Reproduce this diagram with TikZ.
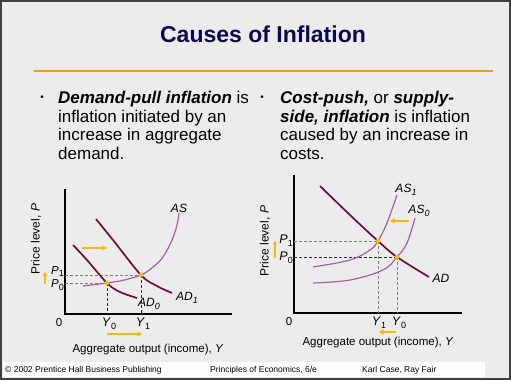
\documentclass[tikz,border=0pt]{standalone}
\usepackage{fontspec}
\setmainfont{Liberation Sans}
\usetikzlibrary{arrows.meta}
\usepackage{xcolor}

\definecolor{slidebg}{RGB}{236,236,236}
\definecolor{titleblue}{RGB}{10,10,80}
\definecolor{rulegold}{RGB}{240,160,0}
\definecolor{admaroon}{RGB}{105,15,60}
\definecolor{aspurple}{RGB}{165,95,165}
\definecolor{shiftyellow}{RGB}{245,185,10}
\newcommand{\lowidx}[1]{\raisebox{-0.45ex}{\fontsize{9}{9}\selectfont #1}}

\begin{document}
\begin{tikzpicture}[
    x=1pt, y=-1pt,
    bullettext/.style={font=\fontsize{17}{18.5}\selectfont, align=left, inner sep=0pt, anchor=north west},
    bulletmark/.style={font=\fontsize{10}{10}\selectfont, inner sep=0pt},
    axisline/.style={line width=1.4pt, black},
    adcurve/.style={line width=1.7pt, admaroon},
    ascurve/.style={line width=1.2pt, aspurple},
    guide/.style={gray, line width=0.6pt, dash pattern=on 3pt off 2pt},
    darkguide/.style={guide, black!85},
    shiftarrow/.style={line width=1.5pt, shiftyellow, -{Triangle[length=4.5pt,width=5pt]}},
    eqdot/.style={circle, fill=shiftyellow, inner sep=0pt, minimum size=4.5pt},
    lbl/.style={font=\fontsize{11.5}{13}\selectfont, inner sep=0pt},
    ticklbl/.style={font=\fontsize{12.5}{13}\selectfont, inner sep=0pt},
    curvelbl/.style={font=\fontsize{12}{13}\selectfont\itshape, inner sep=0pt},
    foot/.style={font=\fontsize{8.5}{10}\selectfont, inner sep=0pt, anchor=west}
]

% Slide background
\useasboundingbox (0,0) rectangle (511,380);
\fill[slidebg] (0,0) rectangle (511,380);
\fill[white!97!slidebg] (3,362) rectangle (485,377);
\draw[black!75, line width=2pt] (1,1) rectangle (510,379);

% Title
\node[font=\bfseries\fontsize{23}{26}\selectfont, text=titleblue, anchor=base] (title) at (263,42) {Causes of Inflation};
\draw[rulegold, line width=2pt] (34,71) -- (493,71);

% Bullets
\node[bulletmark] (b1) at (42,98) {•};
\node[bullettext] (pull) at (58,91) {\textbf{\textit{Demand-pull inflation}} is\\inflation initiated by an\\increase in aggregate\\demand.};
\node[bulletmark] (b2) at (262,98) {•};
\node[bullettext] (push) at (280,91) {\textbf{\textit{Cost-push,}} or \textbf{\textit{supply-}}\\\textbf{\textit{side, inflation}} is inflation\\caused by an increase in\\costs.};

% Left graph: demand-pull
\coordinate (o1) at (65,314);
\draw[axisline] (65,189) -- (o1) -- (232,314);
\node[eqdot] (e0) at (107,283) {};
\node[eqdot] (e1) at (141,275) {};

\draw[guide] (o1 |- e1) -- (e1.center);
\draw[guide] (o1 |- e0) -- (e0.center);
\draw[darkguide] (e1.center) -- (e1 |- o1);
\draw[darkguide] (e0.center) -- (e0 |- o1);

\draw[ascurve] plot[smooth, tension=0.6] coordinates {(83,286) (e0.center) (120,281) (e1.center) (153,267) (163,257) (172,240) (177,225) (179,213)};
\draw[adcurve] plot[smooth, tension=0.6] coordinates {(73,245) (87,260) (e0.center) (120,292) (137,298)};
\draw[adcurve] plot[smooth, tension=0.6] coordinates {(96,219) (113,240) (e1.center) (157,286) (172,293)};
\node[eqdot] at (e0) {};
\node[eqdot] at (e1) {};

\node[curvelbl] (as) at (179,208) {AS};
\node[curvelbl] (ad0) at (149,304) {AD\lowidx{0}};
\node[curvelbl] (ad1) at (187,298) {AD\lowidx{1}};

\node[lbl, anchor=east] (p1l) at (64,271.5) {\textit{P}\lowidx{1}};
\node[lbl, anchor=east] (p0l) at (64,285) {\textit{P}\lowidx{0}};
\node[lbl] (zero1) at (59,323) {0};
\node[ticklbl] (y0l) at (109,324) {\textit{Y}\lowidx{0}};
\node[ticklbl] (y1l) at (143,324) {\textit{Y}\lowidx{1}};
\node[lbl, anchor=base] (xlab1) at (148,352) {Aggregate output (income), \textit{Y}};
\node[lbl, font=\fontsize{12}{13}\selectfont, rotate=90] (ylab1) at (36,239) {Price level, \textit{P}};

\coordinate (adfrom) at (82,248);
\coordinate (adto) at (107,248);
\coordinate (yfrom1) at (107,334);
\coordinate (yto1) at (142,334);
\coordinate (pfrom1) at (45,284);
\coordinate (pto1) at (45,272);
\draw[shiftarrow] (adfrom) -- (adto);
\draw[shiftarrow] (yfrom1) -- (yto1);
\draw[shiftarrow, -{Triangle[length=3.5pt,width=4pt]}, line width=1.2pt] (pfrom1) -- (pto1);

% Right graph: cost-push
\coordinate (o2) at (294,313);
\draw[axisline] (294,175) -- (o2) -- (462,313);
\node[eqdot] (f1) at (378,241) {};
\node[eqdot] (f0) at (397,257) {};

\draw[guide] (o2 |- f1) -- (f1.center);
\draw[darkguide] (o2 |- f0) -- (f0.center);
\draw[guide] (f1.center) -- (f1 |- o2);
\draw[guide] (f0.center) -- (f0 |- o2);

\draw[ascurve] plot[smooth, tension=0.6] coordinates {(313,267) (350,260) (370,250) (f1.center) (387,223) (397,195)};
\draw[ascurve] plot[smooth, tension=0.6] coordinates {(313,283) (350,280) (383,270) (f0.center) (407,243) (415,218)};
\draw[adcurve] plot[smooth, tension=0.6] coordinates {(320,186) (350,215) (f1.center) (f0.center) (429,277)};
\node[eqdot] at (f1) {};
\node[eqdot] at (f0) {};

\node[curvelbl] (as1) at (406,190) {AS\lowidx{1}};
\node[curvelbl] (as0) at (419,211) {AS\lowidx{0}};
\node[curvelbl] (ad) at (441,278) {AD};

\node[ticklbl, anchor=east] (p1r) at (293,241) {\textit{P}\lowidx{1}};
\node[ticklbl, anchor=east] (p0r) at (293,258) {\textit{P}\lowidx{0}};
\node[lbl] (zero2) at (289,322) {0};
\node[ticklbl] (y1r) at (379,323) {\textit{Y}\lowidx{1}};
\node[ticklbl] (y0r) at (399,323) {\textit{Y}\lowidx{0}};
\node[lbl, anchor=base] (xlab2) at (378,345) {Aggregate output (income), \textit{Y}};
\node[lbl, font=\fontsize{12}{13}\selectfont, rotate=90] (ylab2) at (265,241) {Price level, \textit{P}};

\coordinate (asfrom) at (409,221);
\coordinate (asto) at (390,221);
\coordinate (yfrom2) at (396,332);
\coordinate (yto2) at (379,332);
\coordinate (pfrom2) at (275,258);
\coordinate (pto2) at (275,241);
\draw[shiftarrow] (asfrom) -- (asto);
\draw[shiftarrow] (yfrom2) -- (yto2);
\draw[shiftarrow, -{Triangle[length=3.5pt,width=4pt]}, line width=1.2pt] (pfrom2) -- (pto2);

% Footer
\node[foot] (copy) at (5,370) {© 2002 Prentice Hall Business Publishing};
\node[foot] (book) at (210,370) {Principles of Economics, 6/e};
\node[foot] (authors) at (362,370) {Karl Case, Ray Fair};

\end{tikzpicture}
\end{document}
